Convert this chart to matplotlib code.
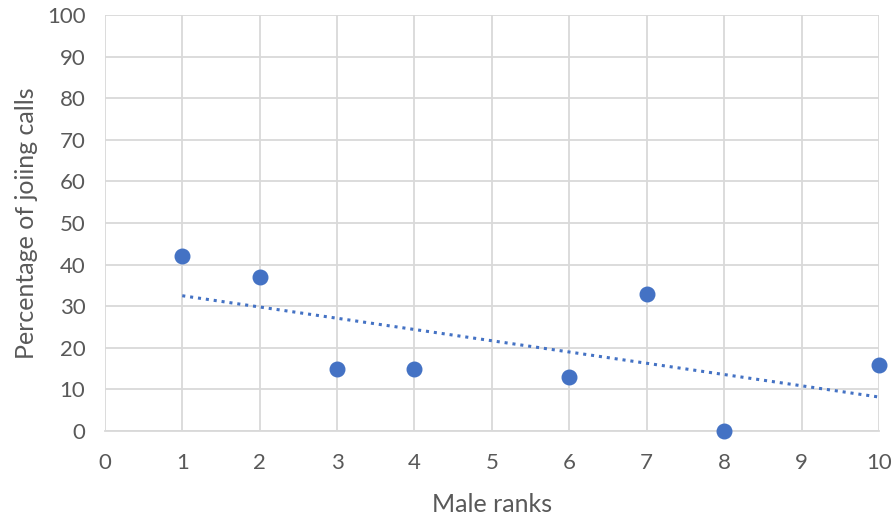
import numpy as np
import matplotlib
matplotlib.use('Agg')
import matplotlib.pyplot as plt

plt.rcParams['font.family'] = ['Lato', 'DejaVu Sans']

# data
male_rank = [1, 2, 3, 4, 6, 7, 8, 10]
pct_joining = [42, 37, 15, 15, 13, 33, 0, 16]

x = np.array(male_rank)
y = np.array(pct_joining)
slope, intercept = np.polyfit(x, y, 1)
xt = np.array([x.min(), x.max()])

fig = plt.figure(figsize=(8.96, 5.2), dpi=100)
ax = fig.add_axes([0.117, 0.171, 0.864, 0.800])

ax.plot(xt, slope * xt + intercept, linestyle=(0, (1, 1.6)), color='#4472C4',
        linewidth=2.2, zorder=2)
ax.scatter(x, y, s=110, color='#4472C4', zorder=3, clip_on=False)

ax.set_xlim(0, 10)
ax.set_ylim(0, 100)
ax.set_xticks(range(0, 11))
ax.set_yticks(range(0, 101, 10))
ax.grid(True, color='#D9D9D9', linewidth=1.3)
ax.set_axisbelow(True)
for side in ['top', 'right', 'left']:
    ax.spines[side].set_visible(False)
ax.spines['bottom'].set_color('#D9D9D9')
ax.spines['bottom'].set_linewidth(1.3)
ax.tick_params(length=0, labelsize=16, colors='#595959')
ax.tick_params(axis='x', pad=16)
ax.tick_params(axis='y', pad=14)

ax.set_xlabel('Male ranks', fontsize=18, color='#595959', labelpad=14)
ax.set_ylabel('Percentage of joiing calls', fontsize=18, color='#595959', labelpad=6)

fig.savefig('out.png', dpi=100)
